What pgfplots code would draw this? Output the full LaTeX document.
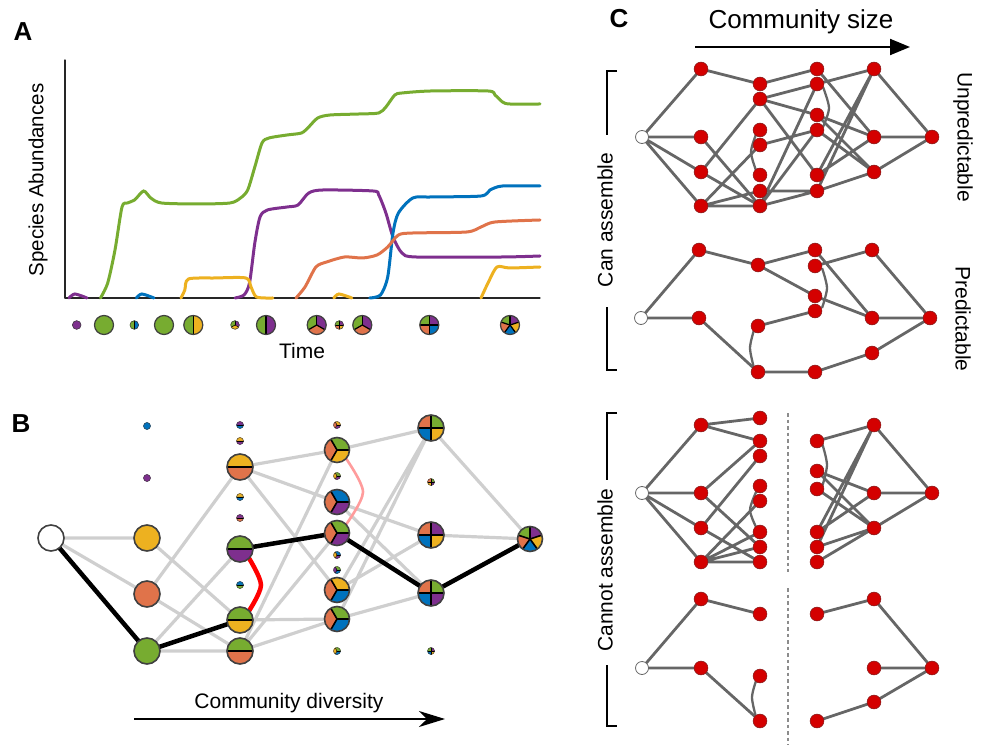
\documentclass[border=0pt]{standalone}
\usepackage{pgfplots}
\pgfplotsset{compat=1.18}
\usepackage{fontspec}
\setmainfont{Liberation Sans}
\usetikzlibrary{arrows.meta}

\definecolor{pieG}{HTML}{77AC30}
\definecolor{pieP}{HTML}{7E2F8E}
\definecolor{pieB}{HTML}{0072BD}
\definecolor{pieO}{HTML}{E0734A}
\definecolor{pieY}{HTML}{EDB120}
\definecolor{pieW}{HTML}{FFFFFF}
\definecolor{pieedge}{HTML}{404040}
\definecolor{edgegray}{HTML}{CFCFCF}
\definecolor{cedge}{HTML}{666666}
\definecolor{cred}{HTML}{D40000}
\definecolor{credline}{HTML}{8A1A1A}
\definecolor{pinkedge}{HTML}{FF9C9C}

% pie glyph: #1 = angle of the first divider, #2 = slice colours, clockwise
\newcommand\drawpie[2]{%
  \pgfmathsetmacro\pr{\pgfplotmarksize}%
  \pgfmathsetmacro\plw{min(1.6,0.13*\pr)}%
  \gdef\pn{0}%
  \foreach \c in {#2}{\xdef\pn{\the\numexpr\pn+1\relax}}%
  \ifnum\pn=1\relax
    \fill[pie#2] (0,0) circle[radius=\pr pt];
  \else
    \foreach \c [count=\i from 0] in {#2}{%
      \pgfmathsetmacro\aone{#1-\i*360/\pn}%
      \pgfmathsetmacro\atwo{#1-(\i+1)*360/\pn}%
      \fill[pie\c] (0,0) -- (\aone:\pr pt) arc[start angle=\aone, end angle=\atwo, radius=\pr pt] -- cycle;
    }%
    \foreach \i in {1,...,\pn}{%
      \pgfmathsetmacro\aone{#1-\i*360/\pn}%
      \draw[black, line width=\plw pt] (0,0) -- (\aone:\pr pt);
    }%
  \fi
  \draw[pieedge, line width=\plw pt] (0,0) circle[radius=\pr pt];
}
\newcommand\piemark[3]{\pgfdeclareplotmark{#1}{\drawpie{#2}{#3}}}

% single species
\piemark{sG}{90}{G}\piemark{sP}{90}{P}\piemark{sB}{90}{B}
\piemark{sO}{90}{O}\piemark{sY}{90}{Y}\piemark{sW}{90}{W}
% time-series row
\piemark{aGB}{90}{B,G}\piemark{aGY}{90}{Y,G}\piemark{aGP}{90}{P,G}
\piemark{aPYG}{90}{P,Y,G}\piemark{aPOG}{90}{P,O,G}
\piemark{aPYOG}{90}{P,Y,O,G}\piemark{aPBOG}{90}{P,B,O,G}
\piemark{five}{90}{P,Y,B,O,G}
% two-species communities
\piemark{hYO}{180}{Y,O}\piemark{hGP}{180}{G,P}\piemark{hGY}{180}{G,Y}
\piemark{hGO}{180}{G,O}\piemark{hPB}{180}{P,B}\piemark{hYP}{180}{Y,P}
\piemark{hYB}{180}{Y,B}\piemark{hPO}{180}{P,O}\piemark{hBG}{180}{B,G}
% three-species communities
\piemark{tGYO}{120}{G,Y,O}\piemark{tBPO}{120}{B,P,O}\piemark{tGPO}{120}{G,P,O}
\piemark{tYBO}{120}{Y,B,O}\piemark{tGBO}{120}{G,B,O}\piemark{tYPO}{120}{Y,P,O}
\piemark{tGPY}{120}{G,P,Y}\piemark{tBPY}{120}{B,P,Y}\piemark{tGBP}{120}{G,B,P}
\piemark{tGBY}{120}{G,B,Y}
% four-species communities
\piemark{qGYBO}{90}{G,Y,B,O}\piemark{qPYBO}{90}{P,Y,B,O}\piemark{qGPBO}{90}{G,P,B,O}
\piemark{qGPYO}{90}{G,P,Y,O}\piemark{qPYBG}{90}{P,Y,B,G}

\newcommand\pies[3]{\addplot[only marks, mark=#1, mark size=#2] coordinates {#3};}

\tikzset{
  lbl/.style={font=\fontsize{21}{24}\selectfont},
  panel/.style={font=\fontsize{26}{30}\selectfont\bfseries},
}

\begin{document}
\begin{tikzpicture}
\begin{axis}[name=canvas, at={(0pt,0pt)}, anchor=south west,
  scale only axis, width=984pt, height=745pt,
  xmin=0, xmax=984, ymin=0, ymax=745, y dir=reverse,
  hide axis, clip=false, unbounded coords=jump]

\addplot[draw=none] coordinates {(0,0) (984,745)};

% ---------- panel labels and texts ----------
\node[panel] at (axis cs:23,32) {A};
\node[panel] at (axis cs:21,424) {B};
\node[panel] at (axis cs:619,19) {C};
\node[lbl, font=\fontsize{20.5}{24}\selectfont, rotate=90] at (axis cs:38,180) {Species Abundances};
\node[lbl] at (axis cs:302,351) {Time};
\node[lbl] at (axis cs:289,703) {Community diversity};
\node[lbl, font=\fontsize{26}{30}\selectfont] at (axis cs:801,22) {Community size};
\node[lbl, rotate=90] at (axis cs:605,220) {Can assemble};
\node[lbl, rotate=90] at (axis cs:605,570) {Cannot assemble};
\node[lbl, rotate=-90] at (axis cs:963,137) {Unpredictable};
\node[lbl, rotate=-90] at (axis cs:963,319) {Predictable};

% arrows
\addplot[black, line width=1.6pt, -{Stealth[length=26pt, width=16pt, inset=8pt]}]
  coordinates {(134,719) (445,719)};
\addplot[black, line width=2pt, -{Triangle[length=20pt, width=16pt]}]
  coordinates {(695,47) (910,47)};

% brackets
\addplot[black, line width=1.6pt] coordinates {(617,71) (607,71) (607,135) (nan,nan) (607,307) (607,370) (617,370)};
\addplot[black, line width=1.6pt] coordinates {(617,413) (607,413) (607,480) (nan,nan) (607,665) (607,726) (617,726)};

% separators
\addplot[black!45, line width=1.3pt, dash pattern=on 3.5pt off 3pt] coordinates {(788,413) (788,572) (nan,nan) (788,588) (788,745)};

% ---------- time-series community row ----------
\pies{sP}{4.3pt}{(76.7,325)}
\pies{sG}{9.5pt}{(104,325) (164,325)}
\pies{aGB}{4.3pt}{(134.3,325)}
\pies{aGY}{9.5pt}{(193.3,325)}
\pies{aPYG}{4.3pt}{(235,325)}
\pies{aGP}{9.5pt}{(266,325)}
\pies{aPOG}{9.5pt}{(316.7,325) (362.3,325)}
\pies{aPYOG}{4.3pt}{(339.3,325)}
\pies{aPBOG}{9.5pt}{(429.3,325)}
\pies{five}{9.5pt}{(510,325)}

% ---------- panel B: assembly graph ----------
\addplot[edgegray, line width=3.2pt] coordinates {
 (51,538) (147,538) (nan,nan) (51,538) (147,594) (nan,nan)
 (147,538) (240,620) (nan,nan) (147,594) (240,467) (nan,nan)
 (147,594) (240,651) (nan,nan) (147,651) (240,549) (nan,nan)
 (147,651) (240,651) (nan,nan)
 (240,467) (337,450) (nan,nan) (240,467) (337,502) (nan,nan)
 (240,467) (337,590) (nan,nan) (240,620) (337,619) (nan,nan)
 (240,651) (337,619) (nan,nan) (240,651) (337,450) (nan,nan)
 (240,651) (337,533) (nan,nan)
 (337,450) (431,428) (nan,nan) (337,502) (431,535) (nan,nan)
 (337,502) (431,593) (nan,nan) (337,590) (431,535) (nan,nan)
 (337,590) (431,428) (nan,nan) (337,619) (431,428) (nan,nan)
 (337,619) (431,593) (nan,nan)
 (431,428) (530,539) (nan,nan) (431,535) (530,539)
};
\addplot[pinkedge, line width=2.6pt, smooth] coordinates {(345,457) (363,492) (345,526)};
\addplot[black, line width=4.5pt] coordinates {
 (51,538) (147,651) (240,620) (nan,nan)
 (240,549) (337,533) (431,593) (530,539)};
\addplot[red, line width=4.5pt, smooth] coordinates {(247,555) (261,585) (247,614)};

\pies{sW}{13pt}{(51,538)}
\pies{sB}{3.5pt}{(147,426)}
\pies{sP}{3.5pt}{(147,478)}
\pies{sY}{13pt}{(147,538)}
\pies{sO}{13pt}{(147,594)}
\pies{sG}{13pt}{(147,651)}
\pies{hYO}{13pt}{(240,467)}
\pies{hGP}{13pt}{(240,549)}
\pies{hGY}{13pt}{(240,620)}
\pies{hGO}{13pt}{(240,651)}
\pies{hPB}{3.5pt}{(240,425)}
\pies{hYP}{3.5pt}{(240,441)}
\pies{hYB}{3.5pt}{(240,497)}
\pies{hPO}{3.5pt}{(240,518)}
\pies{hBG}{3.5pt}{(240,585)}
\pies{tGYO}{12.5pt}{(337,450)}
\pies{tBPO}{12.5pt}{(337,502)}
\pies{tGPO}{12.5pt}{(337,533)}
\pies{tYBO}{12.5pt}{(337,590)}
\pies{tGBO}{12.5pt}{(337,619)}
\pies{tYPO}{3.5pt}{(337,425)}
\pies{tGPY}{3.5pt}{(337,476)}
\pies{tBPY}{3.5pt}{(337,555)}
\pies{tGBP}{3.5pt}{(337,570)}
\pies{tGBY}{3.5pt}{(337,651)}
\pies{qGYBO}{13pt}{(431,428)}
\pies{qPYBO}{13pt}{(431,535)}
\pies{qGPBO}{13pt}{(431,593)}
\pies{qGPYO}{3.5pt}{(431,482)}
\pies{qPYBG}{3.5pt}{(431,651)}
\pies{five}{12.5pt}{(530,539)}

% ---------- panel C: assembly graphs by community size ----------
\addplot[cedge, line width=2.8pt] coordinates {
 (642,137) (701,69) (nan,nan) (642,137) (701,137) (nan,nan)
 (642,137) (701,172) (nan,nan) (642,137) (701,206) (nan,nan)
 (701,69) (760,84) (nan,nan) (701,137) (760,206) (nan,nan)
 (701,172) (760,99) (nan,nan) (701,172) (760,206) (nan,nan)
 (701,206) (760,145) (nan,nan) (701,206) (760,191) (nan,nan)
 (701,206) (760,206) (nan,nan)
 (760,84) (817,69) (nan,nan) (760,99) (817,84) (nan,nan)
 (760,99) (817,115) (nan,nan) (760,99) (817,175) (nan,nan)
 (760,145) (817,130) (nan,nan) (760,206) (817,84) (nan,nan)
 (760,206) (817,130) (nan,nan) (760,206) (817,191) (nan,nan)
 (760,191) (817,191) (nan,nan)
 (817,69) (874,137) (nan,nan) (817,84) (874,69) (nan,nan)
 (817,115) (874,137) (nan,nan) (817,115) (874,172) (nan,nan)
 (817,130) (874,172) (nan,nan) (817,175) (874,69) (nan,nan)
 (817,175) (874,137) (nan,nan) (817,191) (874,69) (nan,nan)
 (817,191) (874,172) (nan,nan)
 (874,69) (932,137) (nan,nan) (874,137) (932,137) (nan,nan)
 (874,172) (932,137) (nan,nan)
 (641,318) (699,250) (nan,nan) (641,318) (699,318) (nan,nan)
 (699,250) (758,265) (nan,nan) (699,318) (758,372) (nan,nan)
 (758,265) (815,250) (nan,nan) (758,265) (815,296) (nan,nan)
 (758,326) (815,311) (nan,nan) (758,372) (815,372) (nan,nan)
 (815,250) (872,318) (nan,nan) (815,266) (872,250) (nan,nan)
 (815,296) (872,318) (nan,nan) (815,372) (872,353) (nan,nan)
 (872,250) (930,318) (nan,nan) (872,318) (930,318) (nan,nan)
 (872,353) (930,318) (nan,nan)
 (642,493) (701,425) (nan,nan) (642,493) (701,493) (nan,nan)
 (642,493) (701,528) (nan,nan) (642,493) (701,562) (nan,nan)
 (701,425) (760,418) (nan,nan) (701,425) (760,441) (nan,nan)
 (701,493) (760,441) (nan,nan) (701,493) (760,547) (nan,nan)
 (701,528) (760,456) (nan,nan) (701,528) (760,562) (nan,nan)
 (701,562) (760,501) (nan,nan) (701,562) (760,532) (nan,nan)
 (701,562) (760,547) (nan,nan) (701,562) (760,562) (nan,nan)
 (817,441) (874,425) (nan,nan) (817,471) (874,493) (nan,nan)
 (817,471) (874,528) (nan,nan) (817,489) (874,528) (nan,nan)
 (817,532) (874,425) (nan,nan) (817,532) (874,493) (nan,nan)
 (817,547) (874,425) (nan,nan) (817,547) (874,528) (nan,nan)
 (817,562) (874,528) (nan,nan)
 (874,425) (932,493) (nan,nan) (874,493) (932,493) (nan,nan)
 (874,528) (932,493) (nan,nan)
 (642,668) (701,599) (nan,nan) (642,668) (701,668) (nan,nan)
 (701,599) (760,614) (nan,nan) (701,668) (760,721) (nan,nan)
 (817,614) (874,599) (nan,nan) (874,599) (932,668) (nan,nan)
 (874,668) (932,668) (nan,nan) (817,721) (874,702) (nan,nan)
 (874,702) (932,668)
};
% curved edges within a column
\addplot[cedge, line width=2.3pt, smooth] coordinates {(757,132) (751,152) (757,173)};
\addplot[cedge, line width=2.3pt, smooth] coordinates {(823,87) (829,108) (823,127)};
\addplot[cedge, line width=2.3pt, smooth] coordinates {(754,330) (750,348) (754,368)};
\addplot[cedge, line width=2.3pt, smooth] coordinates {(822,268) (827,288) (822,308)};
\addplot[cedge, line width=2.3pt, smooth] coordinates {(757,490) (750,510) (757,529)};
\addplot[cedge, line width=2.3pt, smooth] coordinates {(822,443) (827,465) (822,487)};
\addplot[cedge, line width=2.3pt, smooth] coordinates {(757,678) (752,697) (756,717)};

\addplot[only marks, mark=*, mark size=6.9pt, mark options={fill=cred, draw=credline, line width=0.6pt}] coordinates {
 (701,69) (701,137) (701,172) (701,206) (760,84) (760,99) (760,130) (760,145)
 (760,175) (760,191) (760,206) (817,69) (817,84) (817,115) (817,130) (817,175)
 (817,191) (874,69) (874,137) (874,172) (932,137)
 (699,250) (699,318) (758,265) (758,326) (758,372) (815,250) (815,266) (815,296)
 (815,311) (815,372) (872,250) (872,318) (872,353) (930,318)
 (701,425) (701,493) (701,528) (701,562) (760,418) (760,441) (760,456) (760,486)
 (760,501) (760,532) (760,547) (760,562) (817,441) (817,471) (817,489) (817,532)
 (817,547) (817,562) (874,425) (874,493) (874,528) (932,493)
 (701,599) (701,668) (760,614) (760,676) (760,721) (817,614) (817,721) (874,599)
 (874,668) (874,702) (932,668)
};
\addplot[only marks, mark=*, mark size=6.5pt, mark options={fill=white, draw=black!60, line width=0.8pt}] coordinates {
 (642,137) (641,318) (642,493) (642,668)};
\end{axis}

% ---------- panel A: species abundances over time ----------
\begin{axis}[at={(65pt,447pt)}, anchor=south west, scale only axis,
  width=475pt, height=238pt, xmin=0, xmax=475, ymin=0, ymax=238,
  axis lines=left, axis line style={-, line width=1.3pt, black!85},
  ticks=none, clip=false]
\tikzset{every path/.append style={line cap=round}}
\addplot[pieG, line width=3pt, smooth, tension=0.45] coordinates {
 (35.5,0) (42.7,15) (50,48) (57,91) (62.4,95) (69.6,98) (78.6,107) (85.8,100)
 (96.5,95) (132,94) (165,95) (175.5,100) (182.7,108) (189.8,131) (197,155)
 (204,160) (222,163) (236.5,165) (243.7,171) (252.7,180) (265,183) (294,184)
 (313.7,185) (320.9,191) (329.8,203) (337,205) (365.7,207) (423,207) (430,203)
 (437.5,196) (444.7,194) (475,194)};
\addplot[pieP, line width=3pt, smooth, tension=0.45] coordinates {(4,0) (10,4) (22,0)};
\addplot[pieP, line width=3pt, smooth, tension=0.45] coordinates {
 (170,0) (179,3) (184.5,15) (189.8,55) (195,81) (202.4,88) (222,91) (233,93)
 (243.7,105) (258,108) (308,107) (313.7,103) (320.9,85) (328,61) (337,45)
 (351,41) (437.5,41) (475,42)};
\addplot[pieB, line width=3pt, smooth, tension=0.45] coordinates {(71.4,0) (76.8,4) (89,0)};
\addplot[pieB, line width=3pt, smooth, tension=0.45] coordinates {
 (304.7,0) (315.5,3) (322.7,21) (328,65) (333.4,85) (347.8,100) (365.7,101)
 (416,102) (425,108) (437.5,112) (475,112)};
\addplot[pieO, line width=3pt, smooth, tension=0.45] coordinates {
 (231,0) (240,11) (250.9,31) (261.6,36) (279.6,41) (297.5,40) (312,43)
 (322.7,51) (333.4,63) (347.8,65) (401.6,66) (416,71) (430,76) (475,78)};
\addplot[pieY, line width=3pt, smooth, tension=0.45] coordinates {
 (116,0) (119.8,8) (123.4,19) (150,20) (180.9,20) (186,11) (191.6,1) (207.8,0)};
\addplot[pieY, line width=3pt, smooth, tension=0.45] coordinates {(268.8,0) (274,4) (286.8,0)};
\addplot[pieY, line width=3pt, smooth, tension=0.45] coordinates {
 (416,0) (423,15) (432,31) (444.7,30) (475,31)};
\end{axis}
\end{tikzpicture}
\end{document}
